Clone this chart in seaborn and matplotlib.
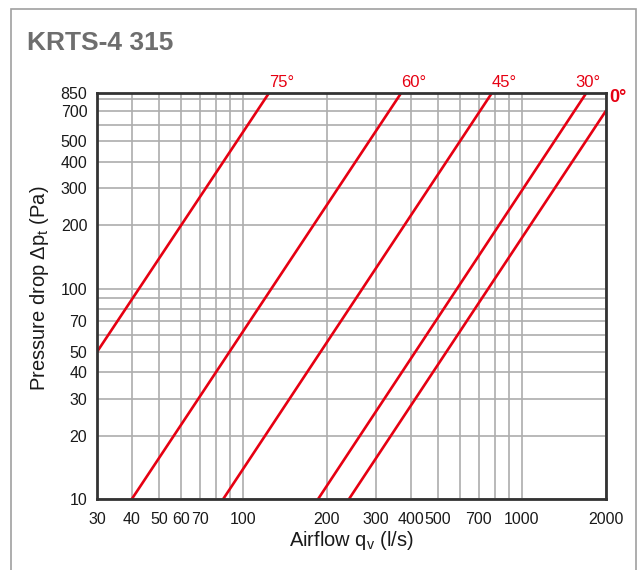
import matplotlib
matplotlib.use("Agg")
import matplotlib.pyplot as plt
import matplotlib.ticker as mticker
from matplotlib.patches import Rectangle
import numpy as np
import pandas as pd
import seaborn as sns

# ---------------------------------------------------------------------------
# Data: end points of each damper-angle line
# ---------------------------------------------------------------------------
angles = ["75°", "60°", "45°", "30°", "0°"]
airflow_start = [30, 40, 85, 186, 240]        # l/s
pressure_start = [50, 10, 10, 10, 10]         # Pa
airflow_end = [124, 369, 780, 1700, 2000]     # l/s
pressure_end = [850, 850, 850, 850, 700]      # Pa

x_ticks = [30, 40, 50, 60, 70, 100, 200, 300, 400, 500, 700, 1000, 2000]
x_grid_minor = [80, 90, 600, 800, 900]
y_ticks = [10, 20, 30, 40, 50, 70, 100, 200, 300, 400, 500, 700, 850]
y_grid_minor = [60, 80, 90, 600, 800]

RED = "#e60012"

rows = []
for a, q0, p0, q1, p1 in zip(angles, airflow_start, pressure_start, airflow_end, pressure_end):
    rows.append({"angle": a, "airflow": q0, "pressure": p0})
    rows.append({"angle": a, "airflow": q1, "pressure": p1})
df = pd.DataFrame(rows)

sns.set_style("white")
plt.rcParams["font.family"] = ["Liberation Sans", "DejaVu Sans"]
plt.rcParams["mathtext.fontset"] = "custom"
plt.rcParams["mathtext.rm"] = "Liberation Sans"
plt.rcParams["mathtext.it"] = "Liberation Sans:italic"

fig = plt.figure(figsize=(6.39, 5.70), dpi=100)
ax = fig.add_axes([97 / 639, 1 - 499 / 570, 509 / 639, 406 / 570])

# outer frame of the data sheet box
fig.patches.append(Rectangle((11 / 639, -0.05), (636 - 11) / 639, 1.05 - 9 / 570,
                             transform=fig.transFigure, fill=False,
                             edgecolor="#a0a0a0", linewidth=1.2))

sns.lineplot(data=df, x="airflow", y="pressure", units="angle", estimator=None,
             color=RED, linewidth=1.9, ax=ax, legend=False, sort=False)

ax.set_xscale("log")
ax.set_yscale("log")
ax.set_xlim(30, 2000)
ax.set_ylim(10, 850)

ax.xaxis.set_major_locator(mticker.FixedLocator(x_ticks))
ax.xaxis.set_minor_locator(mticker.FixedLocator(x_grid_minor))
ax.yaxis.set_major_locator(mticker.FixedLocator(y_ticks))
ax.yaxis.set_minor_locator(mticker.FixedLocator(y_grid_minor))
ax.xaxis.set_major_formatter(mticker.FixedFormatter([str(v) for v in x_ticks]))
ax.yaxis.set_major_formatter(mticker.FixedFormatter([str(v) for v in y_ticks]))
ax.xaxis.set_minor_formatter(mticker.NullFormatter())
ax.yaxis.set_minor_formatter(mticker.NullFormatter())

ax.tick_params(which="both", length=0)
ax.tick_params(axis="x", pad=9, labelsize=11.5, labelcolor="#1a1a1a")
ax.tick_params(axis="y", pad=7, labelsize=11.5, labelcolor="#1a1a1a")
ax.grid(True, which="both", color="#adadad", linewidth=1.2)
ax.set_axisbelow(True)
for spine in ax.spines.values():
    spine.set_color("#333333")
    spine.set_linewidth(2.0)
    spine.set_zorder(5)

ax.set_xlabel("Airflow q$_{\\mathrm{v}}$ (l/s)", fontsize=14.5, color="#1a1a1a")
ax.set_ylabel("Pressure drop \u0394p$_{\\mathrm{t}}$ (Pa)", fontsize=14.5, color="#1a1a1a")
ax.xaxis.set_label_coords(0.5, -0.075)
ax.yaxis.set_label_coords(-0.09, 0.52)

# angle labels at the top end of each line
offsets = {"75°": 0, "60°": 0, "45°": 0, "30°": -8}
for a, q1, p1 in zip(angles, airflow_end, pressure_end):
    if a == "0°":
        ax.text(1.006, 0.988, a, transform=ax.transAxes, color=RED,
                fontsize=13, fontweight="bold", ha="left", va="center")
    else:
        ax.annotate(a, xy=(q1, p1), xytext=(offsets[a], 2.5), textcoords="offset points",
                    color=RED, fontsize=12, ha="left", va="bottom", annotation_clip=False)

fig.text(27 / 639, 1 - 43 / 570, "KRTS-4 315", fontsize=19, fontweight="bold",
         color="#6e6e6e", ha="left", va="center")

fig.savefig("out.png", dpi=100)
plt.close(fig)
